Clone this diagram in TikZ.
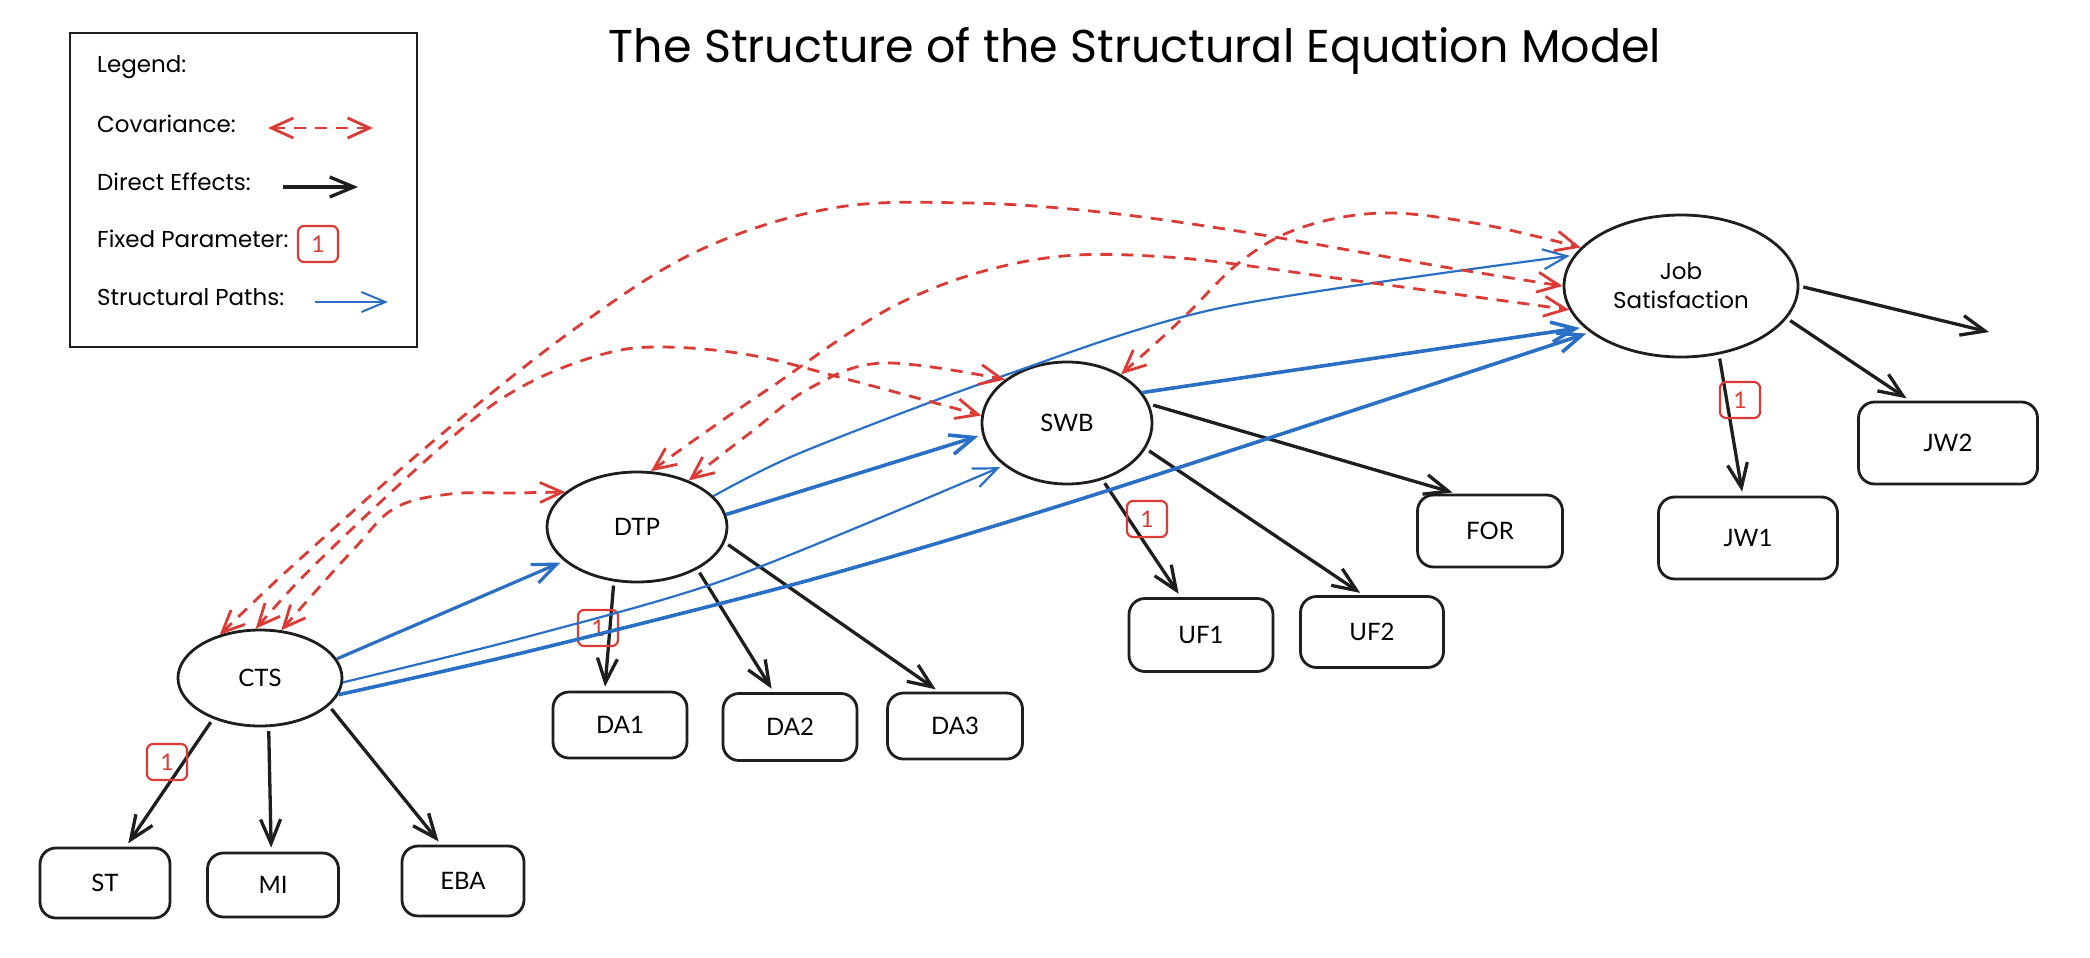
\documentclass[tikz,border=0pt]{standalone}
\usepackage{fontspec}
\setmainfont{Lato}
\newfontfamily\handfont{Poppins}
\usepackage{tikz}
\usetikzlibrary{arrows.meta,shapes.geometric}
\usepackage{xcolor}
\definecolor{covred}{HTML}{DC3A35}
\definecolor{pathblue}{HTML}{2A6FC6}
\definecolor{ink}{HTML}{1E1E1E}

\begin{document}
\begin{tikzpicture}[x=1pt,y=-1pt,
  latent/.style={ellipse,draw=ink,line width=2.8pt,inner sep=0pt,align=center,font=\fontsize{24}{28}\selectfont},
  indicator/.style={rectangle,rounded corners=16pt,draw=ink,line width=2.8pt,font=\fontsize{24}{28}\selectfont},
  fixbox/.style={rectangle,rounded corners=6pt,draw=covred,line width=2.2pt,text=covred,minimum width=40pt,minimum height=36pt,inner sep=0pt,font=\fontsize{23}{25}\selectfont},
  legendtext/.style={anchor=base west,inner sep=0pt,font=\handfont\fontsize{23}{25}\selectfont},
  direct/.style={draw=ink,line width=3.3pt,-{Straight Barb[length=24pt,width=20pt]},shorten <=4pt,shorten >=4pt},
  structural/.style={draw=pathblue,line width=2.2pt,-{Straight Barb[length=24pt,width=20pt]},shorten >=4pt},
  thickpath/.style={structural,line width=3.6pt},
  cov/.style={draw=covred,line width=2.8pt,dash pattern=on 12pt off 9pt,{Straight Barb[length=22pt,width=20pt]}-{Straight Barb[length=22pt,width=20pt]}}]
\useasboundingbox (0,0) rectangle (2090,958);

\node[font=\handfont\fontsize{46}{52}\selectfont,anchor=base] (title) at (1135,63) {The Structure of the Structural Equation Model};

\node[draw=ink,line width=2.8pt,minimum width=347pt,minimum height=314pt,inner sep=0pt] (legend) at (243.5,190) {};
\node[legendtext] (lhead) at (97,73) {Legend:};
\node[legendtext] (lcov) at (97,132) {Covariance:};
\node[legendtext] (ldir) at (97,190) {Direct Effects:};
\node[legendtext] (lfix) at (97,247) {Fixed Parameter:};
\node[legendtext] (lpath) at (97,305) {Structural Paths:};
\coordinate (covA) at (268,128);
\coordinate (covB) at (373,128);
\coordinate (dirA) at (283,187);
\coordinate (dirB) at (358,187);
\coordinate (pathA) at (315,302);
\coordinate (pathB) at (392,302);
\draw[cov] (covA) -- (covB);
\draw[direct,shorten <=0pt,shorten >=0pt] (dirA) -- (dirB);
\node[fixbox] (fix0) at (318,244) {1};
\draw[structural,line width=2pt] (pathA) -- (pathB);

\node[latent,minimum width=164pt,minimum height=96pt] (cts) at (260,678) {CTS};
\node[latent,minimum width=180pt,minimum height=110pt] (dtp) at (637,527) {DTP};
\node[latent,minimum width=170pt,minimum height=122pt] (swb) at (1067,423) {SWB};
\node[latent,minimum width=234pt,minimum height=142pt,font=\handfont\fontsize{23}{29}\selectfont] (js) at (1681,286) {Job\\Satisfaction};

\node[indicator,minimum width=130pt,minimum height=70pt] (st) at (105,883) {ST};
\node[indicator,minimum width=131pt,minimum height=64pt] (mi) at (273,885) {MI};
\node[indicator,minimum width=122pt,minimum height=70pt] (eba) at (463,881) {EBA};
\node[indicator,minimum width=134pt,minimum height=66pt] (da1) at (620,725) {DA1};
\node[indicator,minimum width=134pt,minimum height=67pt] (da2) at (790,727) {DA2};
\node[indicator,minimum width=135pt,minimum height=66pt] (da3) at (955,726) {DA3};
\node[indicator,minimum width=144pt,minimum height=73pt] (uf1) at (1201,635) {UF1};
\node[indicator,minimum width=143pt,minimum height=71pt] (uf2) at (1372,632) {UF2};
\node[indicator,minimum width=145pt,minimum height=72pt] (fo) at (1490,531) {FOR};
\node[indicator,minimum width=179pt,minimum height=82pt] (jw1) at (1748,538) {JW1};
\node[indicator,minimum width=179pt,minimum height=82pt] (jw2) at (1948,443) {JW2};
\coordinate (jsout) at (1993,333);

\draw[direct] (cts.221) -- (st.60);
\draw[direct] (cts.-80) -- (mi.93);
\draw[direct] (cts.-22) -- (eba.121);
\draw[direct] (dtp.247) -- (da1.114);
\draw[direct] (dtp.-35) -- (da2.115);
\draw[direct] (dtp.-10) -- (da3.115);
\draw[direct] (swb.13) -- (fo.132);
\draw[direct] (swb.-18) -- (uf2.103);
\draw[direct] (swb.-58) -- (uf1.118);
\draw[direct] (js.-61) -- (jw1.97);
\draw[direct] (js.-17) -- (jw2.132);
\draw[direct] (js.0) -- (jsout);

\node[fixbox] (fix1) at (167,762) {1};
\node[fixbox] (fix2) at (598,628) {1};
\node[fixbox] (fix3) at (1147,519) {1};
\node[fixbox] (fix4) at (1740,400) {1};

\draw[thickpath,line width=3.2pt] (cts.14) -- (dtp.205);
\draw[structural] plot[smooth] coordinates {(cts.-3) (530,636) (733,577) (swb.214)};
\draw[thickpath] plot[smooth] coordinates {(cts.-12) (530,651) (817,578) (1100,493) (js.207)};
\draw[thickpath] (dtp.8) -- (swb.188);
\draw[structural] plot[smooth] coordinates {(dtp.22) (800,453) (1000,377) (1220,308) (js.164)};
\draw[thickpath] (swb.22) -- (js.203);

\draw[cov] plot[smooth,tension=0.6] coordinates {(cts.66) (353,550) (395,508) (450,494) (510,493) (dtp.154)};
\draw[cov] plot[smooth,tension=0.6] coordinates {(cts.95) (330,550) (457,433) (525,385) (600,355) (660,347) (750,355) (850,380) (swb.175)};
\draw[cov] plot[smooth,tension=0.6] coordinates {(cts.133) (310,550) (443,433) (580,325) (700,250) (833,208) (967,203) (1100,212) (1250,233) (1450,268) (js.180)};
\draw[cov] plot[smooth,tension=0.6] coordinates {(dtp.42) (750,433) (810,388) (883,363) (swb.145)};
\draw[cov] plot[smooth,tension=0.6] coordinates {(dtp.76) (700,436) (767,390) (900,303) (1033,260) (1167,257) (1350,280) (js.192)};
\draw[cov] plot[smooth,tension=0.6] coordinates {(swb.42) (1183,318) (1240,262) (1300,228) (1383,213) (1480,224) (js.159)};
\end{tikzpicture}
\end{document}
